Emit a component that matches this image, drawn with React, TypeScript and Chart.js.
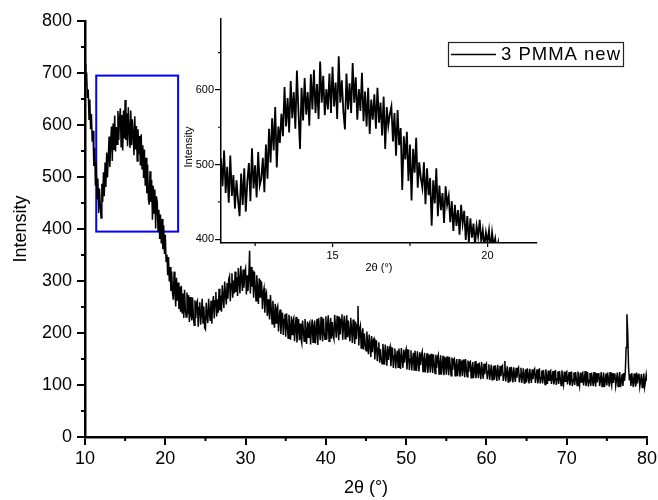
import React, { useEffect, useRef } from "react";
import { Chart, registerables } from "chart.js";

Chart.register(...registerables);

const FONT_FAMILY = '"Liberation Sans", Arial, Helvetica, sans-serif';

// Main pattern: 2θ from 10° to 80°, one reading every 0.1° (10 readings per row = 1°)
const mainStart = 10;
const mainStep = 0.1;
const mainIntensity = [
  718, 676, 701, 652, 668, 611, 649, 592, 621, 568,
  589, 521, 556, 483, 529, 458, 497, 431, 478, 446,
  421, 487, 452, 509, 463, 528, 481, 547, 499, 538,
  578, 519, 566, 597, 531, 603, 552, 618, 549, 596,
  563, 627, 571, 612, 632, 558, 619, 551, 628, 574,
  648, 571, 622, 559, 634, 589, 556, 628, 561, 611,
  581, 542, 617, 553, 598, 531, 592, 544, 579, 522,
  582, 516, 561, 498, 553, 483, 537, 469, 524, 458,
  447, 511, 452, 494, 418, 483, 431, 476, 401, 463,
  451, 396, 437, 381, 428, 372, 419, 361, 407, 352,
  389, 338, 351, 311, 346, 299, 327, 281, 318, 276,
  264, 318, 279, 251, 306, 262, 297, 246, 289, 241,
  291, 239, 276, 229, 283, 244, 231, 278, 236, 273,
  221, 269, 236, 224, 268, 231, 215, 263, 229, 258,
  262, 212, 249, 259, 216, 237, 266, 219, 251, 210,
  207, 258, 232, 219, 266, 238, 223, 262, 218, 257,
  271, 228, 262, 279, 232, 265, 239, 285, 244, 272,
  241, 292, 269, 248, 299, 273, 255, 296, 266, 303,
  309, 261, 294, 315, 268, 301, 276, 318, 279, 307,
  271, 325, 299, 276, 329, 306, 281, 322, 287, 317,
  324, 274, 311, 281, 306, 358, 276, 327, 289, 321,
  268, 318, 291, 262, 311, 285, 256, 305, 269, 299,
  297, 246, 278, 286, 239, 271, 277, 233, 265, 242,
  226, 273, 245, 218, 262, 236, 210, 256, 219, 247,
  252, 203, 231, 245, 198, 228, 239, 196, 226, 236,
  193, 238, 215, 190, 235, 211, 187, 232, 197, 224,
  229, 184, 212, 231, 182, 209, 227, 186, 218, 190,
  181, 224, 205, 184, 227, 199, 179, 222, 192, 217,
  221, 178, 208, 226, 182, 212, 224, 180, 206, 227,
  177, 229, 207, 186, 231, 204, 184, 228, 199, 188,
  232, 187, 214, 234, 184, 211, 229, 189, 221, 196,
  189, 235, 211, 191, 233, 214, 186, 231, 197, 226,
  236, 187, 216, 233, 189, 213, 234, 192, 224, 198,
  184, 229, 207, 181, 226, 203, 179, 222, 188, 216,
  252, 176, 207, 214, 171, 198, 209, 168, 199, 180,
  166, 203, 181, 159, 197, 177, 154, 194, 163, 186,
  189, 149, 173, 186, 146, 170, 182, 143, 169, 151,
  141, 179, 160, 139, 178, 157, 137, 175, 148, 168,
  174, 136, 159, 172, 133, 156, 170, 132, 154, 166,
  134, 170, 152, 131, 171, 150, 133, 168, 143, 163,
  169, 130, 153, 168, 129, 150, 167, 128, 148, 162,
  129, 166, 148, 127, 165, 146, 126, 163, 138, 158,
  164, 126, 147, 162, 124, 144, 161, 123, 142, 158,
  124, 160, 143, 123, 159, 141, 122, 158, 133, 153,
  158, 121, 141, 157, 120, 138, 156, 119, 137, 153,
  120, 155, 138, 119, 154, 136, 118, 153, 129, 149,
  151, 118, 136, 150, 117, 133, 150, 116, 132, 147,
  117, 149, 133, 115, 150, 131, 116, 147, 125, 143,
  145, 114, 130, 144, 113, 128, 146, 113, 127, 141,
  113, 143, 127, 111, 144, 126, 112, 141, 121, 138,
  141, 111, 126, 140, 110, 124, 139, 110, 123, 137,
  110, 138, 124, 108, 139, 122, 109, 137, 117, 134,
  137, 108, 122, 146, 107, 121, 136, 106, 120, 134,
  107, 135, 121, 105, 134, 119, 106, 133, 114, 131,
  134, 105, 119, 133, 104, 118, 132, 104, 117, 130,
  105, 132, 118, 103, 131, 116, 104, 130, 111, 128,
  131, 104, 117, 130, 103, 115, 132, 103, 114, 128,
  103, 129, 115, 101, 130, 113, 102, 128, 109, 126,
  128, 102, 114, 127, 101, 112, 129, 100, 112, 126,
  102, 127, 113, 99, 128, 111, 101, 126, 107, 124,
  126, 101, 113, 125, 99, 110, 126, 98, 110, 124,
  100, 125, 112, 99, 126, 110, 99, 124, 106, 122,
  124, 99, 111, 127, 98, 109, 125, 97, 109, 123,
  98, 124, 111, 98, 125, 108, 97, 123, 105, 121,
  123, 98, 110, 125, 97, 108, 124, 96, 108, 122,
  99, 124, 110, 97, 125, 108, 99, 123, 104, 121,
  122, 98, 109, 124, 97, 107, 125, 96, 107, 121,
  98, 123, 108, 126, 172, 236, 201, 136, 109, 121,
  98, 123, 107, 96, 122, 108, 97, 124, 103, 119,
  122, 97, 108, 121, 95, 107, 122, 96, 106, 120,
  108,
];

// Inset (zoom of the first halo): 2θ from 11.4°, one reading every 0.05°
const insetStart = 11.4;
const insetStep = 0.05;
const insetIntensity = [
  508, 471, 519, 462, 497, 449, 512, 458, 486, 441,
  479, 452, 431, 488, 446, 495, 437, 478, 502, 451,
  522, 468, 499, 456, 517, 472, 481, 509, 463, 527,
  481, 548, 503, 562, 519, 577, 496, 551, 529, 568,
  538, 604, 551, 589, 543, 612, 562, 597, 548, 626,
  571, 521, 603, 559, 616, 567, 597, 552, 621, 574,
  627, 569, 608, 561, 638, 583, 619, 566, 601, 574,
  622, 569, 631, 578, 610, 561, 645, 583, 613, 571,
  547, 622, 574, 609, 569, 636, 583, 617, 560, 601,
  572, 623, 558, 598, 551, 603, 541, 587, 560, 594,
  548, 603, 556, 583, 539, 591, 521, 577, 552, 568,
  578, 531, 569, 512, 573, 526, 549, 466, 538, 507,
  544, 478, 527, 452, 521, 489, 536, 469, 503, 482,
  469, 503, 447, 495, 459, 482, 418, 479, 448, 495,
  431, 472, 439, 462, 422, 471, 446, 458, 423, 451,
  411, 446, 418, 439, 406, 446, 421, 438, 399, 431,
  396, 428, 402, 421, 392, 418, 404, 426, 397, 412,
  390, 409, 396, 412, 385, 409, 391, 401, 382, 395,
  378,
];

const seriesName = "3 PMMA new";
const xAxisTitle = "2θ (°)";
const yAxisTitle = "Intensity";

const mainXRange = [10, 80];
const mainYRange = [0, 800];
const mainXTicks = [10, 20, 30, 40, 50, 60, 70, 80];
const mainXMinorTicks = [15, 25, 35, 45, 55, 65, 75];
const mainYTicks = [0, 100, 200, 300, 400, 500, 600, 700, 800];
const mainYMinorTicks = [50, 150, 250, 350, 450, 550, 650, 750];

const insetXRange = [11.4, 21.6];
const insetYRange = [395, 695];
const insetXTicks = [15, 20];
const insetXMinorTicks = [12.5, 17.5];
const insetYTicks = [400, 500, 600];
const insetYMinorTicks = [450, 550, 650];

function toPoints(start: number, step: number, values: number[]) {
  return values.map((y, i) => ({ x: Math.round((start + i * step) * 1000) / 1000, y }));
}

function drawMinorTicks(chart: any, xMinor: number[], yMinor: number[], xLen: number, yLen: number, width: number) {
  const { ctx, chartArea, scales } = chart;
  ctx.save();
  ctx.strokeStyle = "#000";
  ctx.lineWidth = width;
  ctx.beginPath();
  xMinor.forEach((v) => {
    const px = scales.x.getPixelForValue(v);
    ctx.moveTo(px, chartArea.bottom);
    ctx.lineTo(px, chartArea.bottom + xLen);
  });
  yMinor.forEach((v) => {
    const py = scales.y.getPixelForValue(v);
    ctx.moveTo(chartArea.left, py);
    ctx.lineTo(chartArea.left - yLen, py);
  });
  ctx.stroke();
  ctx.restore();
}

const mainDecor = {
  id: "mainDecor",
  beforeDatasetsDraw(chart: any) {
    const { ctx, scales } = chart;
    const x0 = scales.x.getPixelForValue(insetXRange[0]);
    const x1 = scales.x.getPixelForValue(insetXRange[1]);
    const y0 = scales.y.getPixelForValue(insetYRange[1]);
    const y1 = scales.y.getPixelForValue(insetYRange[0]);
    ctx.save();
    ctx.strokeStyle = "#0000ff";
    ctx.lineWidth = 2;
    ctx.strokeRect(x0, y0, x1 - x0, y1 - y0);
    ctx.restore();
  },
  afterDraw(chart: any) {
    drawMinorTicks(chart, mainXMinorTicks, mainYMinorTicks, 4, 4, 2);
    const { ctx, chartArea } = chart;
    const bx = chartArea.right - 199;
    const by = chartArea.top + 21;
    const bw = 175;
    const bh = 24;
    ctx.save();
    ctx.fillStyle = "#fff";
    ctx.fillRect(bx, by, bw, bh);
    ctx.strokeStyle = "#222";
    ctx.lineWidth = 1.2;
    ctx.strokeRect(bx + 0.5, by + 0.5, bw, bh);
    ctx.lineWidth = 1.5;
    ctx.strokeStyle = "#000";
    ctx.beginPath();
    ctx.moveTo(bx + 3, by + bh / 2 + 0.5);
    ctx.lineTo(bx + 48, by + bh / 2 + 0.5);
    ctx.stroke();
    ctx.fillStyle = "#000";
    ctx.font = `18.5px ${FONT_FAMILY}`;
    try {
      (ctx as any).letterSpacing = "1px";
    } catch (e) {}
    ctx.textBaseline = "middle";
    ctx.textAlign = "left";
    ctx.fillText(seriesName, bx + 53, by + bh / 2 + 1);
    ctx.restore();
  },
};

const insetDecor = {
  id: "insetDecor",
  afterDraw(chart: any) {
    drawMinorTicks(chart, insetXMinorTicks, insetYMinorTicks, 3, 3, 1.2);
    const { ctx, chartArea } = chart;
    ctx.save();
    ctx.fillStyle = "#000";
    ctx.font = `11px ${FONT_FAMILY}`;
    ctx.textAlign = "center";
    ctx.textBaseline = "middle";
    ctx.fillText(xAxisTitle, (chartArea.left + chartArea.right) / 2, chartArea.bottom + 25);
    ctx.translate(chartArea.left - 32.5, chartArea.top + 128);
    ctx.rotate(-Math.PI / 2);
    ctx.fillText(yAxisTitle, 0, 0);
    ctx.restore();
  },
};

export default function App() {
  const mainRef = useRef<HTMLCanvasElement>(null);
  const insetRef = useRef<HTMLCanvasElement>(null);

  useEffect(() => {
    const tickFont = { family: FONT_FAMILY, size: 18 };
    const main = new Chart(mainRef.current as HTMLCanvasElement, {
      type: "line",
      data: {
        datasets: [
          {
            label: seriesName,
            data: toPoints(mainStart, mainStep, mainIntensity),
            borderColor: "#000",
            borderWidth: 1.5,
            pointRadius: 0,
            tension: 0,
            fill: false,
          },
        ],
      },
      options: {
        animation: false,
        responsive: false,
        devicePixelRatio: 1,
        layout: { padding: { left: 0, right: 11, top: 21, bottom: 0 } },
        plugins: { legend: { display: false }, tooltip: { enabled: false } },
        scales: {
          x: {
            type: "linear",
            min: mainXRange[0],
            max: mainXRange[1],
            afterBuildTicks: (s: any) => {
              s.ticks = mainXTicks.map((value) => ({ value }));
            },
            afterFit: (s: any) => {
              s.height = 63;
              s.paddingLeft = 0;
              s.paddingRight = 0;
            },
            ticks: { color: "#000", font: tickFont, padding: 3, maxRotation: 0, autoSkip: false },
            grid: { drawOnChartArea: false, drawTicks: true, tickLength: 8, lineWidth: 2, color: "#000" },
            border: { display: true, color: "#000", width: 2.5 },
            title: { display: true, text: xAxisTitle, color: "#000", font: tickFont, padding: { top: 0, bottom: 1 } },
          },
          y: {
            type: "linear",
            min: mainYRange[0],
            max: mainYRange[1],
            afterBuildTicks: (s: any) => {
              s.ticks = mainYTicks.map((value) => ({ value }));
            },
            afterFit: (s: any) => {
              s.width = 85;
              s.paddingTop = 0;
              s.paddingBottom = 0;
            },
            ticks: { color: "#000", font: tickFont, padding: 5, autoSkip: false },
            grid: { drawOnChartArea: false, drawTicks: true, tickLength: 8, lineWidth: 2, color: "#000" },
            border: { display: true, color: "#000", width: 2.5 },
            title: { display: true, text: yAxisTitle, color: "#000", font: tickFont, padding: { top: 10, bottom: 0 } },
          },
        },
      } as any,
      plugins: [mainDecor],
    });

    const smallFont = { family: FONT_FAMILY, size: 11 };
    const inset = new Chart(insetRef.current as HTMLCanvasElement, {
      type: "line",
      data: {
        datasets: [
          {
            label: seriesName,
            data: toPoints(insetStart, insetStep, insetIntensity),
            borderColor: "#000",
            borderWidth: 1.8,
            pointRadius: 0,
            tension: 0,
            fill: false,
          },
        ],
      },
      options: {
        animation: false,
        responsive: false,
        devicePixelRatio: 1,
        layout: { padding: { left: 0, right: 8, top: 9, bottom: 0 } },
        plugins: { legend: { display: false }, tooltip: { enabled: false } },
        scales: {
          x: {
            type: "linear",
            min: insetXRange[0],
            max: insetXRange[1],
            afterBuildTicks: (s: any) => {
              s.ticks = insetXTicks.map((value) => ({ value }));
            },
            afterFit: (s: any) => {
              s.height = 37;
              s.paddingLeft = 0;
              s.paddingRight = 0;
            },
            ticks: { color: "#000", font: smallFont, padding: 2, maxRotation: 0, autoSkip: false },
            grid: { drawOnChartArea: false, drawTicks: true, tickLength: 4, lineWidth: 1.2, color: "#000" },
            border: { display: true, color: "#000", width: 1.5 },
          },
          y: {
            type: "linear",
            min: insetYRange[0],
            max: insetYRange[1],
            afterBuildTicks: (s: any) => {
              s.ticks = insetYTicks.map((value) => ({ value }));
            },
            afterFit: (s: any) => {
              s.width = 51;
              s.paddingTop = 0;
              s.paddingBottom = 0;
            },
            ticks: { color: "#000", font: smallFont, padding: 1, autoSkip: false },
            grid: { drawOnChartArea: false, drawTicks: true, tickLength: 6, lineWidth: 1.2, color: "#000" },
            border: { display: true, color: "#000", width: 1.5 },
          },
        },
      } as any,
      plugins: [insetDecor],
    });

    return () => {
      main.destroy();
      inset.destroy();
    };
  }, []);

  return (
    <div style={{ position: "absolute", left: 0, top: 0, width: 658, height: 500, background: "#fff" }}>
      <canvas
        ref={mainRef}
        width={658}
        height={500}
        style={{ position: "absolute", left: 0, top: 0, width: 658, height: 500 }}
      />
      <canvas
        ref={insetRef}
        width={375}
        height={270}
        style={{ position: "absolute", left: 170, top: 10, width: 375, height: 270 }}
      />
    </div>
  );
}
